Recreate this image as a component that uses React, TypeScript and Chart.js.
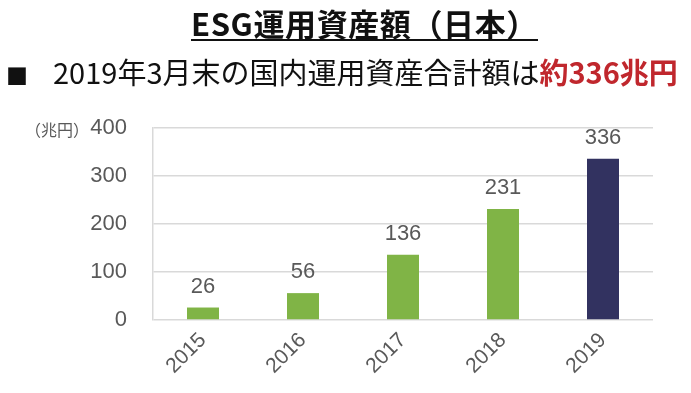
import React, { useEffect, useRef } from "react";
import { Chart, registerables } from "chart.js";

Chart.register(...registerables);

const years = ["2015", "2016", "2017", "2018", "2019"];
const values = [26, 56, 136, 231, 336];
const barColors = ["#80b446", "#80b446", "#80b446", "#80b446", "#323260"];
const yMin = 0;
const yMax = 400;
const yStep = 100;
const titleText = "ESG運用資産額（日本）";
const subtitleMain = "2019年3月末の国内運用資産合計額は";
const subtitleEmph = "約336兆円";
const unitLabel = "（兆円）";

const valueLabelPlugin = {
  id: "valueLabels",
  afterDatasetsDraw(chart: any) {
    const ctx = chart.ctx;
    const meta = chart.getDatasetMeta(0);
    ctx.save();
    ctx.fillStyle = "#595959";
    ctx.font = "22px Arial, 'Liberation Sans', sans-serif";
    ctx.textAlign = "center";
    ctx.textBaseline = "alphabetic";
    meta.data.forEach((bar: any, i: number) => {
      ctx.fillText(String(chart.data.datasets[0].data[i]), bar.x, bar.y - 15);
    });
    ctx.restore();
  },
};

export default function App() {
  const ref = useRef<HTMLCanvasElement | null>(null);
  useEffect(() => {
    if (!ref.current) return;
    const chart = new Chart(ref.current, {
      type: "bar",
      data: {
        labels: years,
        datasets: [
          {
            data: values,
            backgroundColor: barColors,
            barPercentage: 0.32,
            categoryPercentage: 1,
          },
        ],
      },
      options: {
        animation: false,
        responsive: false,
        devicePixelRatio: 1,
        layout: { padding: { top: 128, right: 38, left: 0, bottom: 0 } },
        plugins: { legend: { display: false }, tooltip: { enabled: false }, title: { display: false } },
        scales: {
          x: {
            grid: { display: false, drawTicks: false },
            border: { display: false },
            ticks: {
              color: "#595959",
              font: { size: 21, family: "Arial, 'Liberation Sans', sans-serif" },
              maxRotation: 45,
              minRotation: 45,
              padding: 8,
            },
            afterFit: (s: any) => {
              s.height = 73;
            },
          },
          y: {
            min: yMin,
            max: yMax,
            grid: { color: "#d9d9d9", drawTicks: false, lineWidth: 1.5 },
            border: { display: true, color: "#d9d9d9", width: 1.5 },
            ticks: {
              stepSize: yStep,
              color: "#595959",
              font: { size: 22, family: "Arial, 'Liberation Sans', sans-serif" },
              padding: 26,
            },
            afterFit: (s: any) => {
              s.width = 153;
            },
          },
        },
      },
      plugins: [valueLabelPlugin],
    });
    return () => chart.destroy();
  }, []);

  return (
    <div style={{ position: "absolute", left: 0, top: 0, width: 691, height: 393, background: "#fff", overflow: "hidden" }}>
      <canvas ref={ref} width={691} height={393} style={{ position: "absolute", left: 0, top: 0 }} />
      <div
        style={{
          position: "absolute",
          left: 191,
          top: 7,
          whiteSpace: "nowrap",
          fontFamily: "'Noto Sans CJK JP', sans-serif",
          fontWeight: 700,
          fontSize: 31,
          lineHeight: "31px",
          letterSpacing: 0.6,
          color: "#111",
          borderBottom: "2px solid #111",
          paddingBottom: 1,
        }}
      >
        {titleText}
      </div>
      <div
        style={{
          position: "absolute",
          left: 6,
          top: 57,
          whiteSpace: "nowrap",
          fontFamily: "'Noto Sans CJK JP', sans-serif",
          fontSize: 29,
          lineHeight: "29px",
          color: "#111",
        }}
      >
        <span style={{ fontSize: 22, display: "inline-block", width: 47 }}>■</span>
        {subtitleMain}
        <span style={{ color: "#c0272d", fontWeight: 700 }}>{subtitleEmph}</span>
      </div>
      <div
        style={{
          position: "absolute",
          left: 25,
          top: 121,
          whiteSpace: "nowrap",
          fontFamily: "'Noto Sans CJK JP', sans-serif",
          fontSize: 16,
          lineHeight: "16px",
          color: "#595959",
        }}
      >
        {unitLabel}
      </div>
    </div>
  );
}
